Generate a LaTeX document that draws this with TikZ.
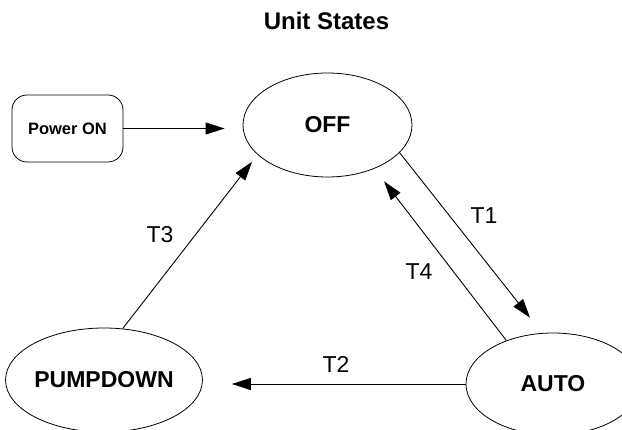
\documentclass[tikz,border=0pt]{standalone}
\usepackage{fontspec}
\setmainfont{Liberation Sans}
\usetikzlibrary{shapes.geometric,arrows.meta}

\begin{document}
\begin{tikzpicture}[x=1pt,y=-1pt,
    state/.style={draw, ellipse, line width=0.8pt, inner sep=0pt,
                  font=\fontsize{23}{27}\selectfont\bfseries},
    arr/.style={line width=0.9pt, -{Triangle[length=19pt,width=12pt]}},
    lbl/.style={font=\fontsize{23}{27}\selectfont}]
            \useasboundingbox (0,0) rectangle (622,430);

            \node[font=\fontsize{24}{28}\selectfont\bfseries] (title) at (326.5,21) {Unit States};

            \node[draw, rounded corners=15pt, line width=0.8pt, minimum width=111pt, minimum height=67pt,
                  font=\fontsize{16.5}{19}\selectfont\bfseries] (power) at (67.5,128.5) {Power ON};
            \node[state, minimum width=169pt, minimum height=104pt] (off) at (327.5,125) {OFF};
            \node[state, minimum width=168pt, minimum height=104pt] (pump) at (104,380) {PUMPDOWN};
            \node[state, minimum width=174pt, minimum height=102pt] (auto) at (553,384) {AUTO};

            \draw[arr, shorten >=18pt] (power.east) -- (power.east -| off.west);
            \draw[arr, shorten >=19.5pt] (off.339) -- (auto.102);
            \draw[arr, shorten >=29pt] (auto.west) -- (auto.west -| pump.east);
            \draw[arr, shorten >=9pt] (pump.70) -- (off.203);
            \draw[arr, shorten >=16pt] (auto.137) -- (off.317);

            \node[lbl] (t1) at (484,216) {T1};
            \node[lbl] (t2) at (336,364) {T2};
            \node[lbl] (t3) at (160,235) {T3};
            \node[lbl] (t4) at (419,272) {T4};
        \end{tikzpicture}
\end{document}
